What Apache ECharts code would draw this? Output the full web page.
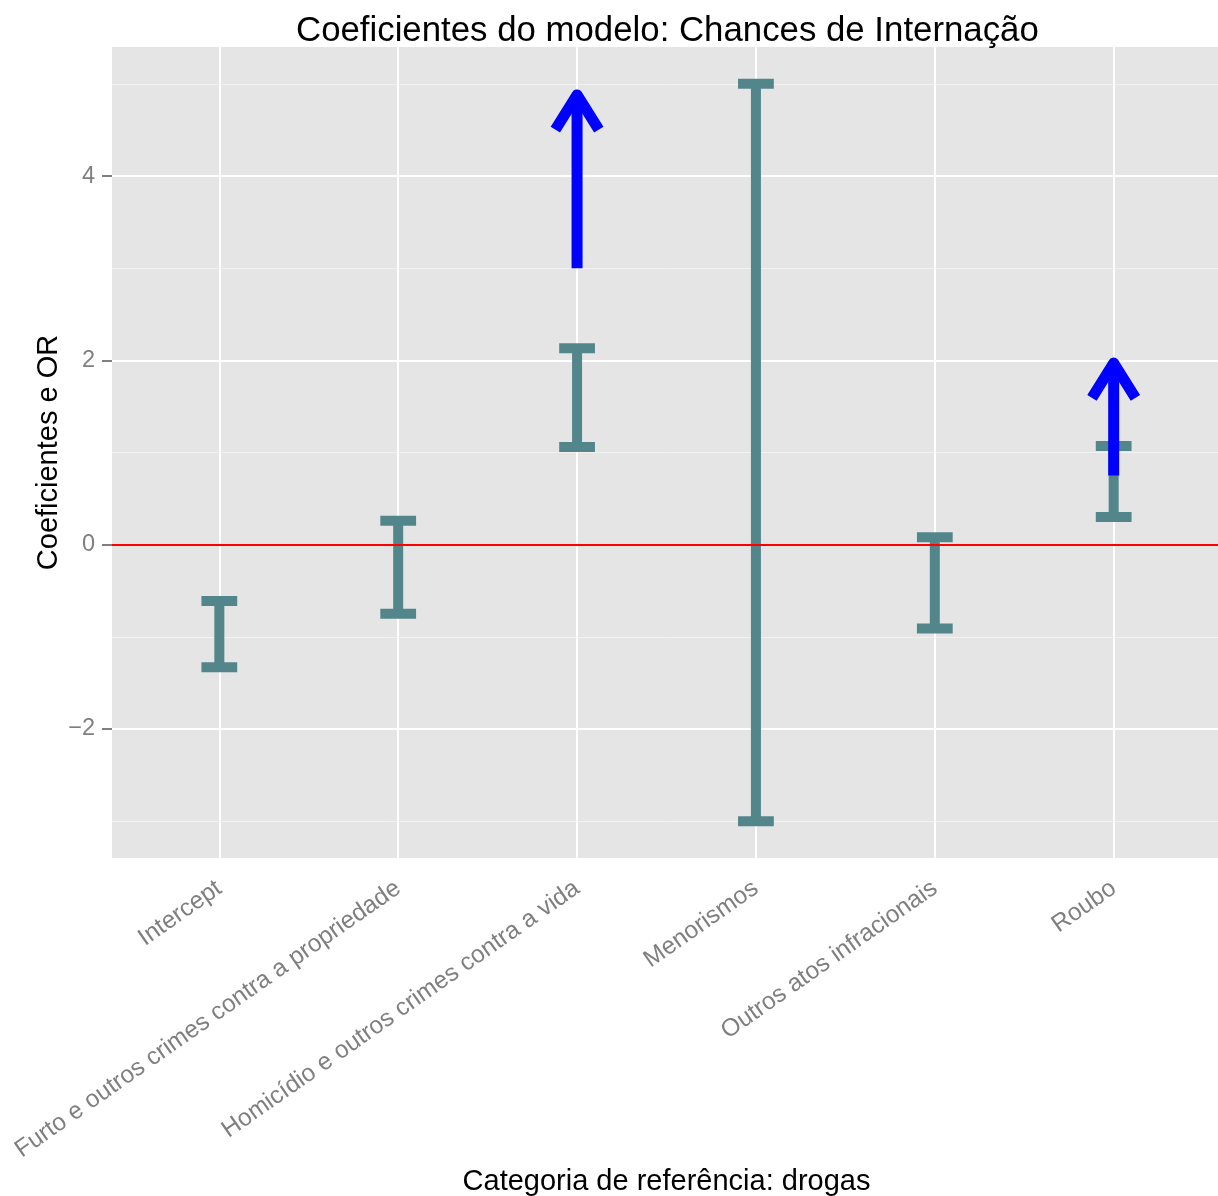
<!DOCTYPE html>
<html>
<head>
<meta charset="utf-8">
<script src="https://cdn.jsdelivr.net/npm/echarts@6/dist/echarts.min.js"></script>
<style>
html,body{margin:0;padding:0;background:#fff;}
#chart{width:1218px;height:1196px;}
</style>
</head>
<body>
<div id="chart"></div>
<script>
// ---- data ----
const categories = [
  'Intercept',
  'Furto e outros crimes contra a propriedade',
  'Homicídio e outros crimes contra a vida',
  'Menorismos',
  'Outros atos infracionais',
  'Roubo'
];
const lowerCI = [-1.33, -0.75, 1.06, -3.0, -0.91, 0.30];
const upperCI = [-0.61, 0.26, 2.13, 5.0, 0.08, 1.07];

const arrowCategories = ['Homicídio e outros crimes contra a vida', 'Roubo'];
const arrowFrom = [3.0, 0.75];
const arrowTo = [4.88, 1.97];

const yTickValues = [-2, 0, 2, 4];
const yMinorValues = [-3, -1, 1, 3, 5];
const referenceLine = 0;

const titleText = 'Coeficientes do modelo: Chances de Internação';
const xTitle = 'Categoria de referência: drogas';
const yTitle = 'Coeficientes e OR';

// ---- chart ----
const FONT = 'Liberation Sans, Arial, Helvetica, sans-serif';
const BAR_COLOR = '#53868B';
const xPositions = categories.map((c, i) => i + 1);

const errorData = categories.map((c, i) => [i + 1, lowerCI[i], upperCI[i]]);
const arrowData = arrowCategories.map((c, i) => [categories.indexOf(c) + 1, arrowFrom[i], arrowTo[i]]);

const chart = echarts.init(document.getElementById('chart'), null, {renderer: 'canvas'});

const option = {
  animation: false,
  backgroundColor: '#ffffff',
  title: {
    text: titleText,
    left: 291,
    top: 9,
    textStyle: {fontFamily: FONT, fontSize: 34.8, fontWeight: 'normal', color: '#000'}
  },
  grid: {
    left: 112, right: -3, top: 47, bottom: 338,
    containLabel: false,
    outerBoundsMode: 'none',
    show: true, backgroundColor: '#E5E5E5', borderWidth: 0
  },
  xAxis: {
    type: 'value',
    min: 0.4, max: 6.6,
    name: xTitle,
    nameLocation: 'middle',
    nameGap: 309,
    nameMoveOverlap: false,
    nameTextStyle: {fontFamily: FONT, fontSize: 29, color: '#000'},
    axisLine: {show: false},
    axisTick: {show: true, length: 10, customValues: xPositions, lineStyle: {color: '#7F7F7F', width: 2}},
    axisLabel: {
      customValues: xPositions,
      rotate: 35,
      margin: 28,
      fontFamily: FONT, fontSize: 24.5, color: '#7F7F7F',
      formatter: v => categories[Math.round(v) - 1] || ''
    },
    splitLine: {show: false}
  },
  yAxis: {
    type: 'value',
    min: -3.4, max: 5.4,
    name: yTitle,
    nameLocation: 'middle',
    nameGap: 49,
    nameMoveOverlap: false,
    nameRotate: 90,
    nameTextStyle: {fontFamily: FONT, fontSize: 29, color: '#000'},
    axisLine: {show: false},
    axisTick: {show: true, length: 10, customValues: yTickValues, lineStyle: {color: '#7F7F7F', width: 2}},
    axisLabel: {
      customValues: yTickValues,
      margin: 17,
      fontFamily: FONT, fontSize: 23.5, color: '#7F7F7F',
      formatter: v => (v < 0 ? '\u2212' + Math.abs(v) : String(v))
    },
    splitLine: {show: false}
  },
  series: [
    {
      name: 'minorGrid',
      type: 'line',
      data: [],
      z: 1,
      silent: true,
      markLine: {
        z: 1,
        silent: true, symbol: 'none', label: {show: false}, animation: false,
        lineStyle: {color: '#F2F2F2', width: 1, type: 'solid'},
        data: yMinorValues.map(v => ({yAxis: v}))
      }
    },
    {
      name: 'majorGrid',
      type: 'line',
      data: [],
      z: 1,
      silent: true,
      markLine: {
        z: 1,
        silent: true, symbol: 'none', label: {show: false}, animation: false,
        lineStyle: {color: '#FFFFFF', width: 2, type: 'solid'},
        data: yTickValues.map(v => ({yAxis: v})).concat(xPositions.map(v => ({xAxis: v})))
      }
    },
    {
      name: 'errorbars',
      type: 'custom',
      z: 3,
      data: errorData,
      renderItem: function (params, api) {
        const x = api.value(0), lo = api.value(1), hi = api.value(2);
        const pHi = api.coord([x, hi]);
        const pLo = api.coord([x, lo]);
        const half = api.size([0.2, 0])[0] / 2;
        const st = {stroke: BAR_COLOR, lineWidth: 10, lineCap: 'butt'};
        return {
          type: 'group',
          children: [
            {type: 'line', shape: {x1: pHi[0], y1: pHi[1], x2: pLo[0], y2: pLo[1]}, style: st},
            {type: 'line', shape: {x1: pHi[0] - half, y1: pHi[1], x2: pHi[0] + half, y2: pHi[1]}, style: st},
            {type: 'line', shape: {x1: pLo[0] - half, y1: pLo[1], x2: pLo[0] + half, y2: pLo[1]}, style: st}
          ]
        };
      }
    },
    {
      name: 'zeroLine',
      type: 'line',
      data: [],
      z: 4,
      silent: true,
      markLine: {
        z: 4,
        silent: true, symbol: 'none', label: {show: false}, animation: false,
        lineStyle: {color: '#FF0000', width: 2, type: 'solid'},
        data: [{yAxis: referenceLine}]
      }
    },
    {
      name: 'arrows',
      type: 'custom',
      z: 5,
      data: arrowData,
      renderItem: function (params, api) {
        const x = api.value(0), y0 = api.value(1), y1 = api.value(2);
        const pFrom = api.coord([x, y0]);
        const pTo = api.coord([x, y1]);
        const L = 41, ang = 32 * Math.PI / 180;
        const dx = L * Math.sin(ang), dy = L * Math.cos(ang);
        const st = {stroke: '#0000FF', lineWidth: 11, lineCap: 'butt', lineJoin: 'round', fill: null};
        return {
          type: 'group',
          children: [
            {type: 'line', shape: {x1: pFrom[0], y1: pFrom[1], x2: pTo[0], y2: pTo[1]}, style: st},
            {type: 'polyline', shape: {points: [[pTo[0] - dx, pTo[1] + dy], [pTo[0], pTo[1]], [pTo[0] + dx, pTo[1] + dy]]}, style: st}
          ]
        };
      }
    }
  ]
};
chart.setOption(option);
</script>
</body>
</html>
